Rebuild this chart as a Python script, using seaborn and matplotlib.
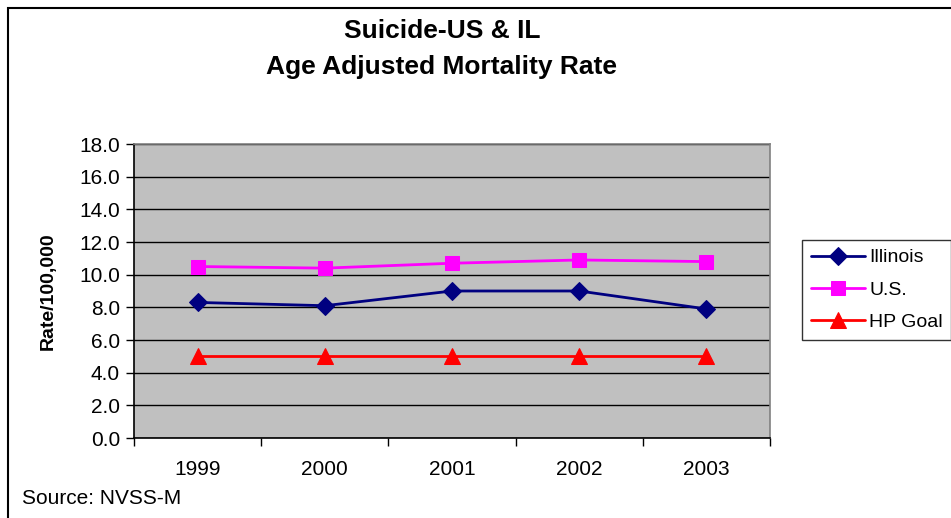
import pandas as pd
import matplotlib
matplotlib.use('Agg')
import matplotlib.pyplot as plt
import matplotlib.patches as mpatches
import seaborn as sns

years = ['1999', '2000', '2001', '2002', '2003']
illinois = [8.3, 8.1, 9.0, 9.0, 7.9]
us = [10.5, 10.4, 10.7, 10.9, 10.8]
hp_goal = [5.0, 5.0, 5.0, 5.0, 5.0]
series_names = ['Illinois', 'U.S.', 'HP Goal']

df = pd.DataFrame({
    'year': years * 3,
    'rate': illinois + us + hp_goal,
    'series': [s for s in series_names for _ in years],
})

sns.set_style('white')
plt.rcParams['font.family'] = ['Liberation Sans', 'DejaVu Sans']
plt.rcParams['text.color'] = 'black'
plt.rcParams['axes.labelcolor'] = 'black'
plt.rcParams['xtick.color'] = 'black'
plt.rcParams['ytick.color'] = 'black'

fig = plt.figure(figsize=(9.51, 5.18), dpi=100)
ax = fig.add_axes([134 / 951, 80 / 518, 636 / 951, 294 / 518])

colors = {'Illinois': '#000080', 'U.S.': '#FF00FF', 'HP Goal': '#FF0000'}
markers = {'Illinois': 'D', 'U.S.': 's', 'HP Goal': '^'}
sizes = {'Illinois': 9, 'U.S.': 10, 'HP Goal': 11}

for name in series_names:
    sub = df[df['series'] == name]
    sns.lineplot(data=sub, x='year', y='rate', ax=ax, color=colors[name],
                 marker=markers[name], markersize=sizes[name],
                 markeredgecolor=colors[name], linewidth=2, label=name,
                 legend=False, sort=False)

ax.set_facecolor('#C0C0C0')
ax.set_xlim(-0.5, len(years) - 0.5)
ax.set_ylim(0, 18)
ax.set_yticks([i * 2 for i in range(10)])
ax.set_yticklabels([f'{i * 2:.1f}' for i in range(10)])
ax.yaxis.grid(True, color='black', linewidth=1)
ax.set_axisbelow(True)

# category boundaries as ticks, labels centred
ax.set_xticks([i - 0.5 for i in range(len(years) + 1)])
ax.set_xticklabels([])
ax.set_xticks(range(len(years)), minor=True)
ax.set_xticklabels(years, minor=True)
ax.tick_params(axis='x', which='minor', length=0, pad=16, labelsize=15)
ax.tick_params(axis='x', which='major', length=6, width=1, color='black',
               direction='out', bottom=True)
ax.tick_params(axis='y', length=6, width=1, color='black', direction='out',
               left=True, labelsize=15, pad=4)

for side in ['top', 'right']:
    ax.spines[side].set_color('#808080')
    ax.spines[side].set_linewidth(1.2)
for side in ['left', 'bottom']:
    ax.spines[side].set_color('black')
    ax.spines[side].set_linewidth(1.2)

ax.set_xlabel('')
ax.set_ylabel('Rate/100,000', fontsize=14, fontweight='bold', labelpad=16)

fig.text(442 / 951, 1 - 31 / 518, 'Suicide-US & IL', ha='center', va='center',
         fontsize=19, fontweight='bold')
fig.text(442 / 951, 1 - 67 / 518, 'Age Adjusted Mortality Rate', ha='center',
         va='center', fontsize=19, fontweight='bold')
fig.text(22 / 951, 1 - 498 / 518, 'Source: NVSS-M', ha='left', va='center',
         fontsize=15)

# outer chart border
fig.patches.append(mpatches.Rectangle((8 / 951, -0.1), 1.2, 1 - 8 / 518 + 0.1,
                                      transform=fig.transFigure, fill=False,
                                      edgecolor='black', linewidth=1.5))

handles, labels = ax.get_legend_handles_labels()
leg = fig.legend(handles, labels, loc='upper left',
                 bbox_to_anchor=(802 / 951, 1 - 240 / 518), fontsize=14,
                 frameon=True, fancybox=False, edgecolor='black',
                 handlelength=2.8, handletextpad=0.2, borderpad=0.45,
                 labelspacing=0.75, borderaxespad=0)
leg.get_frame().set_linewidth(1)

fig.savefig('out.png', dpi=100)
